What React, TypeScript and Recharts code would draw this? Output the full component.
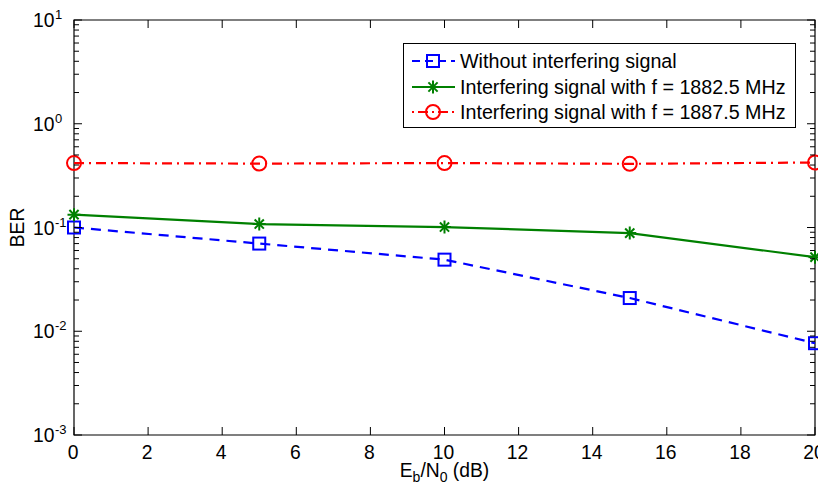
import React from 'react';
import { LineChart, Line, XAxis, YAxis, ReferenceArea, Customized } from 'recharts';

const xValues = [0, 5, 10, 15, 20];
const berNoInterf = [0.1, 0.07, 0.049, 0.0209, 0.00767];
const berF18825 = [0.133, 0.108, 0.101, 0.0883, 0.0518];
const berF18875 = [0.418, 0.413, 0.418, 0.411, 0.423];
const xTicks = [0, 2, 4, 6, 8, 10, 12, 14, 16, 18, 20];
const yMajor = [0.001, 0.01, 0.1, 1, 10];
const yExp = ['-3', '-2', '-1', '0', '1'];
const yMinor = [
  0.002, 0.003, 0.004, 0.005, 0.006, 0.007, 0.008, 0.009,
  0.02, 0.03, 0.04, 0.05, 0.06, 0.07, 0.08, 0.09,
  0.2, 0.3, 0.4, 0.5, 0.6, 0.7, 0.8, 0.9,
  2, 3, 4, 5, 6, 7, 8, 9,
];
const seriesNames = [
  'Without interfering signal',
  'Interfering signal with f = 1882.5 MHz',
  'Interfering signal with f = 1887.5 MHz',
];

const data = xValues.map((x, i) => ({
  x,
  a: berNoInterf[i],
  b: berF18825[i],
  c: berF18875[i],
}));

const W = 818;
const H = 477;
const PL = 66;
const PT = 12;
const PR = 807;
const PB = 427;
const FONT = '"Liberation Sans", Arial, Helvetica, sans-serif';
const FS = 19.3;
const BLUE = '#0000ff';
const GREEN = '#008000';
const RED = '#ff0000';
const LW = 2.2;

const Square = ({ cx, cy }: any) => (
  <rect x={cx - 6} y={cy - 6} width={12} height={12} fill="none" stroke={BLUE} strokeWidth={2} />
);
const Star = ({ cx, cy }: any) => {
  const r = 6.5;
  const d = r * 0.7071;
  return (
    <g stroke={GREEN} strokeWidth={2}>
      <line x1={cx - r} y1={cy} x2={cx + r} y2={cy} />
      <line x1={cx} y1={cy - r} x2={cx} y2={cy + r} />
      <line x1={cx - d} y1={cy - d} x2={cx + d} y2={cy + d} />
      <line x1={cx - d} y1={cy + d} x2={cx + d} y2={cy - d} />
    </g>
  );
};
const Circle = ({ cx, cy }: any) => (
  <circle cx={cx} cy={cy} r={7} fill="none" stroke={RED} strokeWidth={2} />
);

const YTick = (props: any) => {
  const { y, payload } = props;
  const v = payload.value;
  const mi = yMajor.findIndex((m) => Math.abs(m - v) / m < 1e-6);
  const major = mi >= 0;
  const len = major ? 8 : 5;
  return (
    <g>
      <line x1={PL} y1={y} x2={PL + len} y2={y} stroke="#000" strokeWidth={1} />
      <line x1={PR - len} y1={y} x2={PR} y2={y} stroke="#000" strokeWidth={1} />
      {major && (
        <g fontFamily={FONT} fill="#000">
          <text x={25} y={y + 7} fontSize={FS} textAnchor="start">10</text>
          <text x={47} y={y - 1} fontSize={13} textAnchor="start">{yExp[mi]}</text>
        </g>
      )}
    </g>
  );
};

const XTick = (props: any) => {
  const { x, payload } = props;
  return (
    <g>
      <line x1={x} y1={PB} x2={x} y2={PB - 8} stroke="#000" strokeWidth={1} />
      <line x1={x} y1={PT} x2={x} y2={PT + 8} stroke="#000" strokeWidth={1} />
      <text x={x - 1} y={PB + 23.5} fontFamily={FONT} fontSize={FS} fill="#000" textAnchor="middle">
        {payload.value}
      </text>
    </g>
  );
};

const LX = 395;
const LY = 35;

const Overlay = () => {
  const rows = [18, 44, 69];
  return (
    <g>
      <g fontFamily={FONT} fontSize={FS} fill="#000">
        <text x={0} y={0} transform={`translate(16, ${(PT + PB) / 2}) rotate(-90)`} textAnchor="middle">
          BER
        </text>
        <text x={(PL + PR) / 2} y={PB + 42} textAnchor="middle">
          E<tspan dy={5} fontSize={14}>b</tspan>
          <tspan dy={-5}>/N</tspan>
          <tspan dy={5} fontSize={14}>0</tspan>
          <tspan dy={-5}> (dB)</tspan>
        </text>
      </g>
      <g className="legend" transform={`translate(${LX}, ${LY})`}>
        <rect x={0.5} y={0.5} width={392} height={84} fill="#fff" stroke="#000" strokeWidth={1} />
        <line x1={9} y1={rows[0]} x2={52} y2={rows[0]} stroke={BLUE} strokeWidth={LW} strokeDasharray="8 5" />
        <Square cx={30} cy={rows[0]} />
        <line x1={9} y1={rows[1]} x2={52} y2={rows[1]} stroke={GREEN} strokeWidth={LW} />
        <Star cx={30} cy={rows[1]} />
        <line x1={9} y1={rows[2]} x2={52} y2={rows[2]} stroke={RED} strokeWidth={LW} strokeDasharray="2 4 10 4" />
        <Circle cx={30} cy={rows[2]} />
        {seriesNames.map((n, i) => (
          <text key={n} x={57} y={rows[i] + 7} fontFamily={FONT} fontSize={19.7} fill="#000">
            {n}
          </text>
        ))}
      </g>
    </g>
  );
};

export default function App() {
  return (
    <LineChart
      width={W}
      height={H}
      data={data}
      margin={{ top: PT, right: W - PR, left: 0, bottom: 0 }}
      style={{ overflow: 'visible' }}
    >
      <XAxis
        dataKey="x"
        type="number"
        domain={[0, 20]}
        ticks={xTicks}
        height={H - PB}
        tickSize={0}
        tickMargin={0}
        tickLine={false}
        axisLine={false}
        tick={<XTick />}
        interval={0}
      />
      <YAxis
        type="number"
        scale="log"
        domain={[0.001, 10]}
        ticks={[...yMajor, ...yMinor].sort((p, q) => p - q)}
        width={PL}
        tickSize={0}
        tickMargin={0}
        tickLine={false}
        axisLine={false}
        tick={<YTick />}
        interval={0}
        allowDataOverflow
      />
      <ReferenceArea x1={0} x2={20} y1={0.001} y2={10} fill="none" stroke="#000" strokeWidth={1.2} ifOverflow="visible" />
      <Line
        dataKey="a"
        name={seriesNames[0]}
        stroke={BLUE}
        strokeWidth={LW}
        strokeDasharray="10 7"
        dot={<Square />}
        activeDot={false}
        isAnimationActive={false}
      />
      <Line
        dataKey="b"
        name={seriesNames[1]}
        stroke={GREEN}
        strokeWidth={LW}
        dot={<Star />}
        activeDot={false}
        isAnimationActive={false}
      />
      <Line
        dataKey="c"
        name={seriesNames[2]}
        stroke={RED}
        strokeWidth={LW}
        strokeDasharray="10 5 2 5"
        dot={<Circle />}
        activeDot={false}
        isAnimationActive={false}
      />
      <Customized component={Overlay} />
    </LineChart>
  );
}
